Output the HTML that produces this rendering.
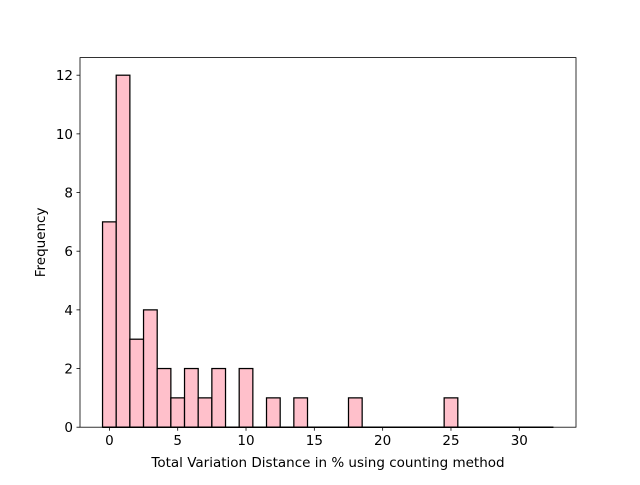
<!DOCTYPE html>
<html><head><meta charset="utf-8"><style>
body{margin:0;background:#fff}
svg text{font-family:"DejaVu Sans","Liberation Sans",sans-serif;font-size:13.5px;fill:#000}
</style></head><body>
<svg id="chart" width="640" height="480">
<rect width="640" height="480" fill="#fff"/>
<g id="bars"></g>
<g id="axes"></g>
</svg>
<script>
const binStarts=[-0.5,0.5,1.5,2.5,3.5,4.5,5.5,6.5,7.5,8.5,9.5,10.5,11.5,12.5,13.5,14.5,15.5,16.5,17.5,18.5,19.5,20.5,21.5,22.5,23.5,24.5,25.5,26.5,27.5,28.5,29.5,30.5,31.5];
const counts=[7,12,3,4,2,1,2,1,2,0,2,0,1,0,1,0,0,0,1,0,0,0,0,0,0,1,0,0,0,0,0,0,0];
const binWidth=1;
const xTicks=[0,5,10,15,20,25,30];
const yTicks=[0,2,4,6,8,10,12];
const L=80,R=576,T=57.6,B=427.2;
const xMin=-2.15,xMax=34.15,yMax=12.6;
const X=v=>L+(v-xMin)/(xMax-xMin)*(R-L);
const Y=v=>B-v/yMax*(B-T);
const NS='http://www.w3.org/2000/svg';
const bars=document.getElementById('bars'),axes=document.getElementById('axes');
function mk(tag,attrs,parent){const e=document.createElementNS(NS,tag);for(const k in attrs)e.setAttribute(k,attrs[k]);parent.appendChild(e);return e;}
counts.forEach((c,i)=>{
 const x0=X(binStarts[i]),x1=X(binStarts[i]+binWidth);
 const r=mk('rect',{x:x0,y:Y(c),width:x1-x0,height:B-Y(c),fill:'#ffc0cb',stroke:'#000','stroke-width':1.25},bars);
 
 
});
const frame=mk('rect',{x:L,y:T,width:R-L,height:B-T,fill:'none',stroke:'#000','stroke-width':0.8},axes);


const base=mk('line',{x1:X(binStarts[0]),x2:X(binStarts[binStarts.length-1]+binWidth),y1:B,y2:B,stroke:'#000','stroke-width':1.5},axes);


xTicks.forEach(t=>{
 mk('line',{x1:X(t),x2:X(t),y1:B,y2:B+3.5,stroke:'#000','stroke-width':0.8},axes);
 const tx=mk('text',{x:X(t),y:B+18,'text-anchor':'middle'},axes);tx.textContent=t;
 
 
});
yTicks.forEach(t=>{
 mk('line',{x1:L-3.5,x2:L,y1:Y(t),y2:Y(t),stroke:'#000','stroke-width':0.8},axes);
 const tx=mk('text',{x:L-7,y:Y(t)+5,'text-anchor':'end'},axes);tx.textContent=t;
 
 
});
const xl=mk('text',{x:(L+R)/2,y:467,'text-anchor':'middle'},axes);
xl.textContent='Total Variation Distance in % using counting method';


const yl=mk('text',{x:45,y:(T+B)/2,'text-anchor':'middle',transform:'rotate(-90 45 '+((T+B)/2)+')'},axes);
yl.textContent='Frequency';


</script>
</body></html>
